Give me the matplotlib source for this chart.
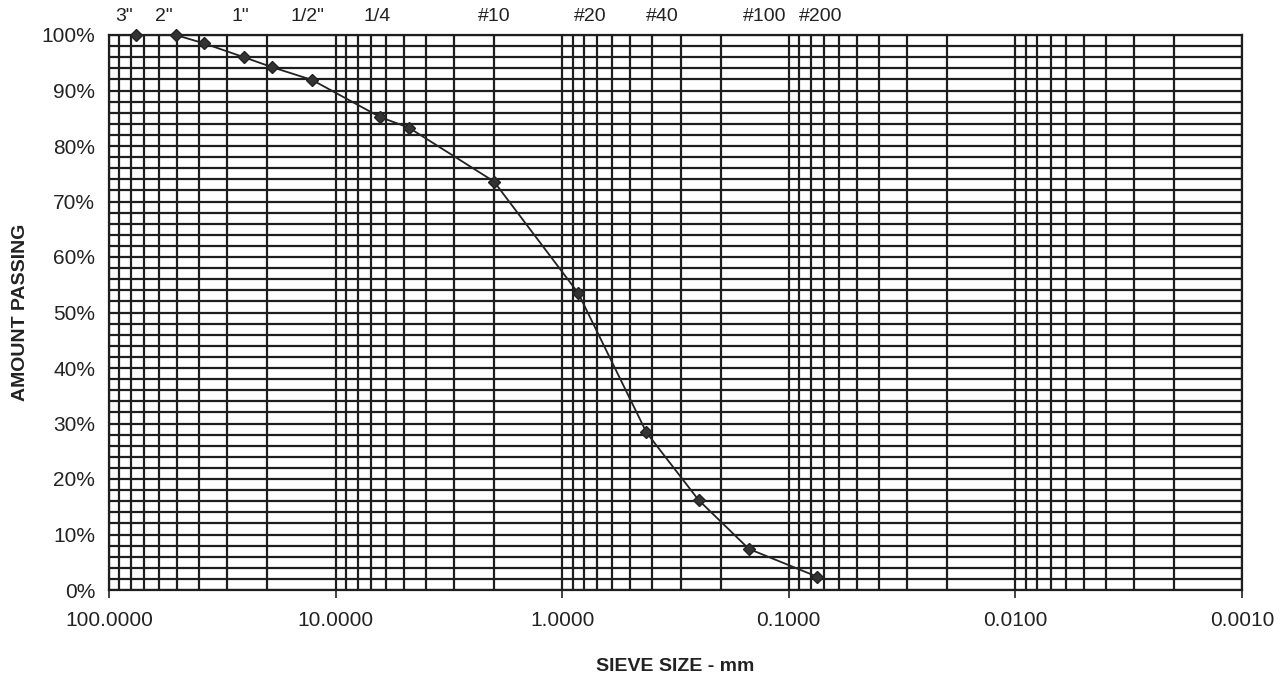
import matplotlib
matplotlib.use('Agg')
import matplotlib.pyplot as plt
from matplotlib.ticker import FixedLocator, FuncFormatter, LogLocator, MultipleLocator
import numpy as np

plt.rcParams['font.family'] = ['Liberation Sans', 'DejaVu Sans']

# sieve openings (mm) and percent passing
sieve_mm = [76.2, 50.8, 38.1, 25.4, 19.05, 12.7, 6.35, 4.75, 2.0, 0.85, 0.425, 0.25, 0.15, 0.075]
passing = [100.0, 100.0, 98.5, 96.0, 94.2, 91.9, 85.2, 83.3, 73.6, 53.5, 28.4, 16.2, 7.4, 2.4]

# sieve names written above the plot, with their position along the axis
sieve_names = ['3"', '2"', '1"', '1/2"', '1/4', '#10', '#20', '#40', '#100', '#200']
name_pos = [0.013, 0.048, 0.116, 0.175, 0.237, 0.340, 0.425, 0.488, 0.579, 0.628]

fig = plt.figure(figsize=(12.86, 6.75), dpi=100)
ax = fig.add_axes([109 / 1286, 85 / 675, 1133 / 1286, 555 / 675])

ax.plot(sieve_mm, passing, color='#222222', lw=1.3, marker='D', ms=6,
        mfc='#333333', mec='#222222', zorder=5, clip_on=False)

ax.set_xscale('log')
ax.set_xlim(100, 0.001)
ax.set_ylim(0, 100)

ax.xaxis.set_major_locator(FixedLocator([100, 10, 1, 0.1, 0.01, 0.001]))
ax.xaxis.set_minor_locator(LogLocator(base=10, subs=np.arange(2, 10)))
ax.xaxis.set_major_formatter(FuncFormatter(lambda v, p: f'{v:.4f}'))
ax.xaxis.set_minor_formatter(FuncFormatter(lambda v, p: ''))
ax.yaxis.set_major_locator(MultipleLocator(10))
ax.yaxis.set_minor_locator(MultipleLocator(2))
ax.yaxis.set_major_formatter(FuncFormatter(lambda v, p: f'{v:.0f}%'))

ax.grid(True, which='both', color='#1e1e1e', lw=1.6)
ax.set_axisbelow(True)
for s in ax.spines.values():
    s.set_color('#1e1e1e')
    s.set_linewidth(1.6)

ax.tick_params(axis='x', which='major', length=6, width=1.2, color='#222222',
               labelsize=15, pad=9, colors='#222222')
ax.tick_params(axis='x', which='minor', length=0)
ax.tick_params(axis='y', which='major', length=0, labelsize=15, pad=10, colors='#222222')
ax.tick_params(axis='y', which='minor', length=0)

for name, xp in zip(sieve_names, name_pos):
    ax.text(xp, 1.018, name, transform=ax.transAxes, ha='center', va='bottom',
            fontsize=14, color='#222222')

ax.set_ylabel('AMOUNT PASSING', fontsize=14, fontweight='bold', color='#222222', labelpad=9)
ax.set_xlabel('SIEVE SIZE - mm', fontsize=14, fontweight='bold', color='#222222', labelpad=20)

fig.savefig('out.png', dpi=100, facecolor='white')
